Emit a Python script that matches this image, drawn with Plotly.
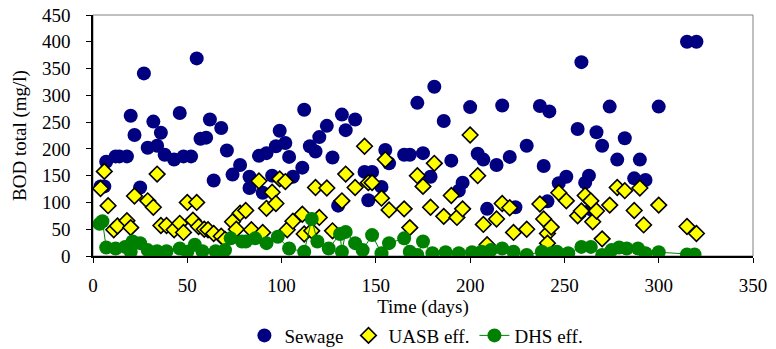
import plotly.graph_objects as go

# BOD total over time for raw sewage, UASB effluent and DHS effluent
sewage_days = [4, 6, 7, 12, 14, 18, 20, 22, 25, 27, 29, 32, 34, 36, 38, 43, 46, 48, 52, 55,
               57, 60, 62, 64, 68, 71, 74, 78, 83, 83, 88, 90, 92, 95, 97, 99, 102, 104, 106, 111,
               112, 115, 118, 120, 124, 127, 130, 132, 134, 139, 144, 146, 148, 153, 155, 157, 165, 168, 172, 175,
               179, 181, 186, 190, 194, 196, 200, 204, 207, 209, 214, 217, 221, 224, 230, 237, 239, 241, 242, 247,
               251, 257, 259, 261, 263, 264, 267, 270, 274, 278, 282, 287, 290, 293, 300, 315, 320]
sewage_bod = [130, 130, 176, 186, 186, 186, 262, 226, 128, 341, 202, 251, 206, 230, 189, 180, 267, 186, 186, 369,
              219, 221, 255, 141, 239, 197, 152, 170, 148, 127, 187, 118, 192, 150, 205, 234, 211, 185, 148, 165,
              273, 205, 195, 222, 243, 184, 94, 264, 235, 255, 157, 104, 157, 129, 198, 173, 189, 189, 286, 192,
              148, 316, 252, 178, 122, 137, 278, 191, 180, 88, 170, 281, 185, 91, 206, 280, 168, 102, 270, 136,
              148, 237, 362, 137, 150, 87, 231, 206, 279, 180, 220, 145, 180, 142, 279, 400, 400]

uasb_days = [4, 6, 8, 11, 13, 18, 20, 22, 29, 32, 34, 36, 39, 43, 46, 48, 50, 53, 55, 56,
             59, 61, 64, 68, 70, 74, 76, 78, 81, 84, 88, 90, 92, 95, 97, 99, 102, 103, 106, 111,
             112, 116, 118, 120, 124, 127, 132, 134, 139, 144, 146, 148, 153, 155, 157, 165, 168, 172, 175, 179,
             181, 186, 190, 193, 196, 200, 204, 207, 209, 214, 217, 221, 223, 230, 237, 239, 241, 241, 243, 247,
             251, 257, 259, 261, 264, 265, 267, 270, 274, 278, 282, 287, 290, 292, 300, 315, 320]
uasb_bod = [126, 158, 94, 49, 56, 66, 53, 112, 103, 91, 153, 57, 57, 49, 61, 44, 100, 67, 100, 55,
            50, 49, 42, 37, 31, 64, 50, 80, 85, 49, 140, 44, 89, 119, 98, 144, 139, 49, 65, 78,
            41, 47, 128, 72, 127, 47, 103, 153, 128, 205, 137, 137, 108, 180, 86, 88, 53, 150, 130, 91,
            173, 74, 113, 72, 88, 226, 150, 59, 21, 69, 98, 90, 44, 50, 97, 69, 42, 24, 54, 118,
            103, 75, 84, 113, 103, 64, 84, 32, 95, 128, 122, 85, 127, 58, 95, 55, 42]

dhs_days = [3.5, 5, 7, 12, 17, 20, 21, 25, 29, 34, 39, 46, 50, 54, 58, 65, 70, 73, 79, 81,
            86, 92, 98, 104, 112, 116, 119, 125, 131, 132, 134, 139, 143, 148, 153, 157, 165, 168, 172, 175,
            180, 187, 194, 201, 206, 211, 217, 223, 230, 238, 243, 246, 252, 259, 264, 270, 275, 279, 283, 289,
            293, 300, 315, 319]
dhs_bod = [60, 65, 16, 14, 17, 8, 27, 24, 11, 9, 9, 14, 8, 21, 9, 9, 11, 33, 27, 27,
           33, 24, 36, 14, 8, 69, 27, 14, 41, 8, 45, 24, 11, 39, 5, 24, 33, 8, 2, 27,
           5, 7, 5, 7, 8, 11, 14, 8, 2, 8, 5, 8, 5, 17, 17, 2, 11, 16, 14, 14,
           5, 7, 3, 3]

x_ticks = [0, 50, 100, 150, 200, 250, 300, 350]
y_ticks = [0, 50, 100, 150, 200, 250, 300, 350, 400, 450]

FONT = "Liberation Serif, Times New Roman, serif"
FS = 19

fig = go.Figure()
fig.add_trace(go.Scatter(
    x=sewage_days, y=sewage_bod, mode="markers", name="Sewage",
    marker=dict(symbol="circle", size=14, color="#000080", line=dict(width=0)),
))
fig.add_trace(go.Scatter(
    x=uasb_days, y=uasb_bod, mode="markers", name="UASB eff.",
    marker=dict(symbol="diamond", size=12, color="#FFFF00", line=dict(width=1.6, color="black")),
))
fig.add_trace(go.Scatter(
    x=dhs_days, y=dhs_bod, mode="lines+markers", name="DHS eff.",
    line=dict(color="#008000", width=1),
    marker=dict(symbol="circle", size=14, color="#008000", line=dict(width=0)),
))

# grey plot-area frame; the black axis lines sit over its left and bottom edges
fig.add_shape(type="rect", xref="paper", yref="paper", x0=0, y0=0, x1=1, y1=1,
              line=dict(color="#808080", width=1), layer="below")

fig.update_layout(
    width=776, height=349,
    margin=dict(l=93, r=23, t=15, b=93, autoexpand=False),
    paper_bgcolor="white", plot_bgcolor="white",
    font=dict(family=FONT, size=FS, color="black"),
    showlegend=True,
    legend=dict(orientation="h", x=0.49, xanchor="center", y=-0.33, yanchor="middle",
                font=dict(family=FONT, size=FS), bgcolor="rgba(0,0,0,0)",
                itemwidth=30, tracegroupgap=0),
)
fig.update_xaxes(
    range=[0, 350], tickvals=x_ticks, showgrid=False, zeroline=False, automargin=False,
    showline=True, linecolor="black", linewidth=1.5,
    ticks="outside", ticklen=5, tickcolor="black", ticklabelstandoff=6,
    title=dict(text="Time (days)", standoff=2, font=dict(size=FS)),
)
fig.update_yaxes(
    range=[0, 450], tickvals=y_ticks, showgrid=False, zeroline=False, automargin=False,
    showline=True, linecolor="black", linewidth=1.5,
    ticks="outside", ticklen=5, tickcolor="black", ticklabelstandoff=12,
    title=dict(text="BOD total (mg/l)", standoff=10, font=dict(size=FS)),
)

fig.write_html("out.html")
